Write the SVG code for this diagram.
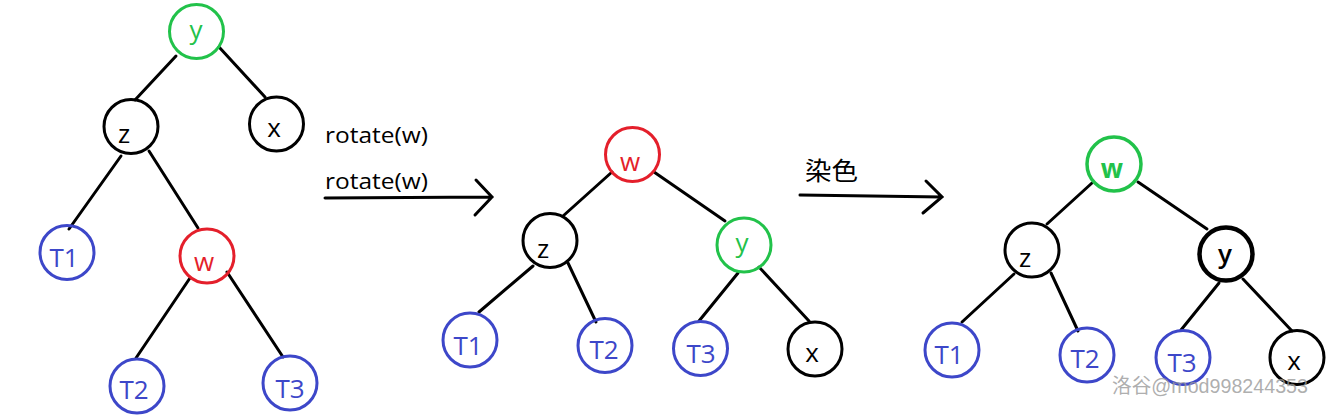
<svg xmlns="http://www.w3.org/2000/svg" width="1328" height="417" viewBox="0 0 1328 417">
<style>
.n{fill:none;stroke-width:3}
.blk{stroke:#000}
.grn{stroke:#22c24a}
.red{stroke:#e41f2b}
.blu{stroke:#3d47c9}
.t{font-family:"Open Sans","Noto Sans","Liberation Sans",sans-serif;font-size:26px;text-anchor:middle}
.tb{fill:#000}
.tg{fill:#22c24a}
.tr{fill:#e41f2b}
.tu{fill:#3d47c9}
.e{stroke:#000;stroke-width:3;fill:none;stroke-linecap:round}
.lbl{font-family:"Open Sans","Noto Sans","Liberation Sans","Noto Sans CJK SC",sans-serif;font-size:21px;fill:#000}
</style>
<rect width="1328" height="417" fill="#fff"/>
<g id="connectors">
<line class="e" x1="176" y1="56" x2="135" y2="100"/>
<line class="e" x1="219" y1="47" x2="265" y2="97"/>
<line class="e" x1="121" y1="156" x2="69" y2="229"/>
<line class="e" x1="149" y1="151" x2="198" y2="228"/>
<line class="e" x1="190" y1="278" x2="136" y2="358"/>
<line class="e" x1="227" y1="272" x2="283" y2="357"/>
<line class="e" x1="612" y1="172" x2="563" y2="216"/>
<line class="e" x1="654" y1="172" x2="725" y2="221"/>
<line class="e" x1="533" y1="266" x2="479" y2="312"/>
<line class="e" x1="568" y1="263" x2="596" y2="322"/>
<line class="e" x1="738" y1="273" x2="699" y2="321"/>
<line class="e" x1="759" y1="267" x2="809" y2="321"/>
<line class="e" x1="1092" y1="183" x2="1047" y2="224"/>
<line class="e" x1="1138" y1="182" x2="1207" y2="229"/>
<line class="e" x1="1014" y1="274" x2="962" y2="322"/>
<line class="e" x1="1051" y1="273" x2="1078" y2="331"/>
<line class="e" x1="1219" y1="283" x2="1181" y2="330"/>
<line class="e" x1="1243" y1="279" x2="1292" y2="331"/>
</g>
<g id="arrows">
<path class="e" d="M325,198 L492,197 M476,180 L492,197 L475,215"/>
<path class="e" d="M800,195 L942,197 M926,181 L942,197 L923,213"/>
<text class="lbl" x="325" y="143" textLength="103" lengthAdjust="spacingAndGlyphs">rotate(w)</text>
<text class="lbl" x="325" y="189" textLength="103" lengthAdjust="spacingAndGlyphs">rotate(w)</text>
<text class="lbl" x="805" y="180" style="font-size:25px" textLength="53" lengthAdjust="spacingAndGlyphs">染色</text>
</g>
<g id="t1-y"><circle class="n grn" cx="196.5" cy="31.5" r="27"/><text class="t tg" x="196" y="39">y</text></g>
<g id="t1-z"><circle class="n blk" cx="131" cy="126.5" r="27"/><text class="t tb" x="124" y="143">z</text></g>
<g id="t1-x"><circle class="n blk" cx="276.5" cy="124" r="27"/><text class="t tb" x="274" y="137">x</text></g>
<g id="t1-T1"><circle class="n blu" cx="67" cy="252.5" r="27"/><text class="t tu" x="64" y="267">T1</text></g>
<g id="t1-w"><circle class="n red" cx="207" cy="256" r="27"/><text class="t tr" x="204" y="271">w</text></g>
<g id="t1-T2"><circle class="n blu" cx="137" cy="386" r="27"/><text class="t tu" x="134" y="399">T2</text></g>
<g id="t1-T3"><circle class="n blu" cx="290" cy="383" r="27"/><text class="t tu" x="290" y="398">T3</text></g>
<g id="t2-w"><circle class="n red" cx="632.5" cy="154.5" r="27"/><text class="t tr" x="630" y="171">w</text></g>
<g id="t2-z"><circle class="n blk" cx="550" cy="240.5" r="27"/><text class="t tb" x="543" y="258">z</text></g>
<g id="t2-y"><circle class="n grn" cx="744" cy="245" r="27"/><text class="t tg" x="742" y="252">y</text></g>
<g id="t2-T1"><circle class="n blu" cx="470" cy="340" r="27"/><text class="t tu" x="468" y="355">T1</text></g>
<g id="t2-T2"><circle class="n blu" cx="605" cy="345.5" r="27"/><text class="t tu" x="604" y="359">T2</text></g>
<g id="t2-T3"><circle class="n blu" cx="700.5" cy="348.5" r="27"/><text class="t tu" x="701" y="363">T3</text></g>
<g id="t2-x"><circle class="n blk" cx="815" cy="349" r="27"/><text class="t tb" x="812" y="362">x</text></g>
<g id="t3-w"><circle class="n grn" cx="1114" cy="164" r="27" style="stroke-width:3.5"/><text class="t tg" x="1112" y="178" font-weight="bold">w</text></g>
<g id="t3-z"><circle class="n blk" cx="1032" cy="250" r="27"/><text class="t tb" x="1025" y="267">z</text></g>
<g id="t3-y"><circle class="n blk" cx="1226" cy="254" r="26.5" style="stroke-width:4.5"/><text class="t tb" x="1225" y="263" font-weight="600">y</text></g>
<g id="t3-T1"><circle class="n blu" cx="952" cy="350" r="27"/><text class="t tu" x="949" y="364">T1</text></g>
<g id="t3-T2"><circle class="n blu" cx="1087" cy="355" r="27"/><text class="t tu" x="1085" y="368">T2</text></g>
<g id="t3-T3"><circle class="n blu" cx="1183" cy="357.5" r="27"/><text class="t tu" x="1182" y="372">T3</text></g>
<g id="t3-x"><circle class="n blk" cx="1297" cy="357.5" r="27"/><text class="t tb" x="1294" y="370">x</text></g>
<text x="1112" y="393" font-family="'Liberation Sans','Noto Sans CJK SC',sans-serif" font-size="20" fill="#999" fill-opacity="0.8" textLength="196" lengthAdjust="spacingAndGlyphs">洛谷@mod998244353</text>
</svg>
